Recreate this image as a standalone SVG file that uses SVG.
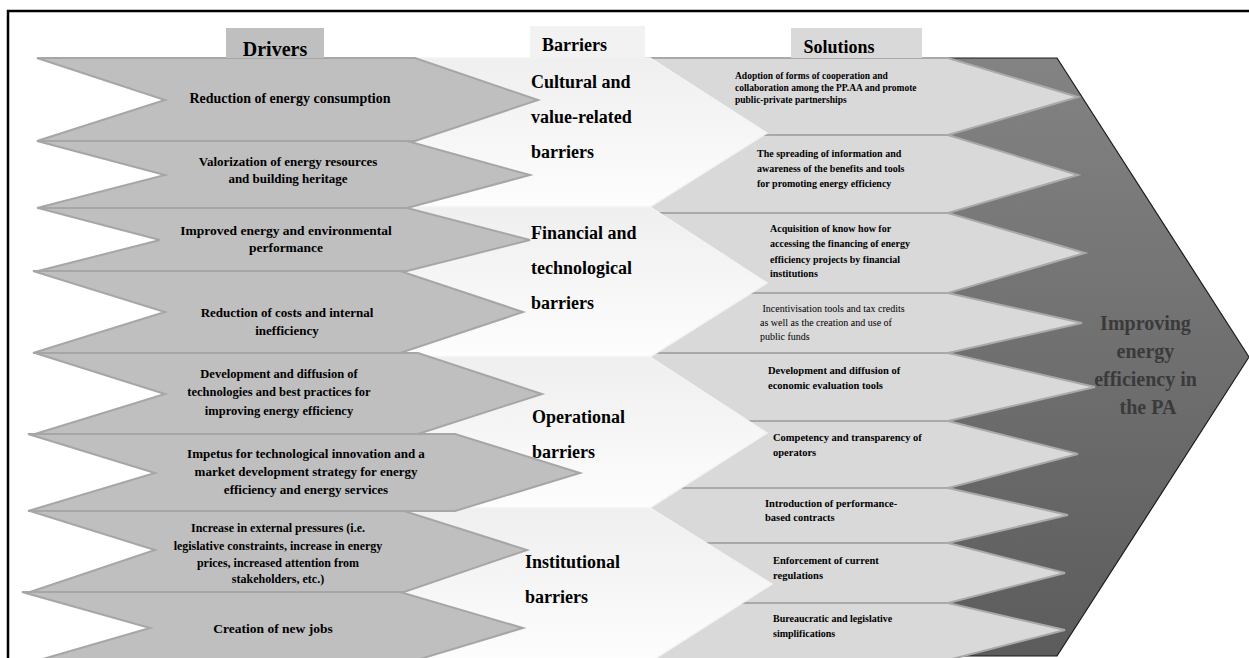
<svg xmlns="http://www.w3.org/2000/svg" width="1249" height="658" viewBox="0 0 1249 658">
<defs>
<linearGradient id="gArrow" x1="0" y1="0" x2="0" y2="1">
<stop offset="0" stop-color="#838383"/>
<stop offset="1" stop-color="#5c5c5c"/>
</linearGradient>
<linearGradient id="gBar" x1="0" y1="0" x2="0" y2="1">
<stop offset="0" stop-color="#efefef"/>
<stop offset="1" stop-color="#fdfdfd"/>
</linearGradient>
<style>
.drv{fill:#bfbfbf;stroke:#a6a6a6;stroke-width:2;stroke-linejoin:miter}
.sol{fill:#d9d9d9;stroke:#a9a9a9;stroke-width:2}
.bar{fill:url(#gBar);stroke:#f3f3f3;stroke-width:1.5}
.t{font-family:"Liberation Serif","Times New Roman",serif;fill:#000}
.dt{font-weight:bold;text-anchor:middle}
.st{font-weight:bold;font-size:10px}
.bt{font-weight:bold;font-size:18px}
.hd{font-weight:bold;font-size:18px}
</style>
</defs>
<rect x="0" y="0" width="1249" height="658" fill="#ffffff"/>

<g id="goal">
<polygon points="900,58 1057,58 1249,357 1057,656 900,656" fill="url(#gArrow)" stroke="#1a1a1a" stroke-width="1.2"/>
<text class="t" font-weight="bold" font-size="20" text-anchor="middle" fill="#3a3a3a" style="fill:#3a3a3a">
<tspan x="1148" y="330">Improving</tspan>
<tspan x="1148" y="358">energy</tspan>
<tspan x="1148" y="386">efficiency in</tspan>
<tspan x="1148" y="414">the PA</tspan>
</text>
</g>

<g id="solutions">
<g id="s1"><polygon class="sol" points="600,58 948,58 1078,97 948,135 600,135"/>
<text class="t st" font-size="9.5" style="font-size:9.5px"><tspan x="735" y="79">Adoption of forms of cooperation and</tspan><tspan x="735" y="91">collaboration among the PP.AA and promote</tspan><tspan x="735" y="103">public-private partnerships</tspan></text></g>
<g id="s2"><polygon class="sol" points="600,135 948,135 1078,175 948,213 600,213"/>
<text class="t st"><tspan x="757" y="157">The spreading of information and</tspan><tspan x="757" y="172">awareness of the benefits and tools</tspan><tspan x="757" y="187">for promoting energy efficiency</tspan></text></g>
<g id="s3"><polygon class="sol" points="600,213 948,213 1085,253 948,293 600,293"/>
<text class="t st"><tspan x="770" y="232">Acquisition of know how for</tspan><tspan x="770" y="247">accessing the financing of energy</tspan><tspan x="770" y="263">efficiency projects by financial</tspan><tspan x="770" y="277">institutions</tspan></text></g>
<g id="s4"><polygon class="sol" points="600,293 948,293 1082,323 948,353 600,353"/>
<text class="t" font-size="10" xml:space="preserve"><tspan x="760" y="312"> Incentivisation tools and tax credits</tspan><tspan x="760" y="326">as well as the creation and use of</tspan><tspan x="760" y="340">public funds</tspan></text></g>
<g id="s5"><polygon class="sol" points="600,353 948,353 1095,387 948,421 600,421"/>
<text class="t st" style="font-size:10.5px"><tspan x="768" y="374">Development and diffusion of</tspan><tspan x="768" y="389">economic evaluation tools</tspan></text></g>
<g id="s6"><polygon class="sol" points="600,421 948,421 1078,454 948,488 600,488"/>
<text class="t st" style="font-size:10.5px"><tspan x="773" y="441">Competency and transparency of</tspan><tspan x="773" y="456">operators</tspan></text></g>
<g id="s7"><polygon class="sol" points="600,488 948,488 1068,515 948,543 600,543"/>
<text class="t st" style="font-size:10.5px"><tspan x="765" y="507">Introduction of performance-</tspan><tspan x="765" y="521">based contracts</tspan></text></g>
<g id="s8"><polygon class="sol" points="600,543 948,543 1065,573 948,603 600,603"/>
<text class="t st" style="font-size:10.5px"><tspan x="773" y="564">Enforcement of current</tspan><tspan x="773" y="579">regulations</tspan></text></g>
<g id="s9"><polygon class="sol" points="600,603 948,603 1065,630 948,660 600,660"/>
<text class="t st"><tspan x="773" y="622">Bureaucratic and legislative</tspan><tspan x="773" y="637">simplifications</tspan></text></g>
</g>

<g id="barriers">
<g id="b1"><polygon class="bar" points="300,58 650,58 767,133 650,207 300,207"/>
<text class="t bt"><tspan x="531" y="88">Cultural and</tspan><tspan x="531" y="123">value-related</tspan><tspan x="531" y="158">barriers</tspan></text></g>
<g id="b2"><polygon class="bar" points="300,207 650,207 767,283 650,357 300,357"/>
<text class="t bt"><tspan x="531" y="239">Financial and</tspan><tspan x="531" y="274">technological</tspan><tspan x="531" y="309">barriers</tspan></text></g>
<g id="b3"><polygon class="bar" points="300,357 650,357 767,433 650,508 300,508"/>
<text class="t bt"><tspan x="532" y="423">Operational</tspan><tspan x="532" y="458">barriers</tspan></text></g>
<g id="b4"><polygon class="bar" points="300,508 650,508 772,584 650,662 300,662"/>
<text class="t bt"><tspan x="525" y="568">Institutional</tspan><tspan x="525" y="603">barriers</tspan></text></g>
</g>

<g id="drivers">
<g id="d1"><polygon class="drv" points="37,58 415,58 538,100 415,141 37,141 165,100"/>
<text class="t dt" font-size="14"><tspan x="290" y="103">Reduction of energy consumption</tspan></text></g>
<g id="d2"><polygon class="drv" points="37,141 407,141 530,175 407,208 37,208 165,175"/>
<text class="t dt" font-size="13"><tspan x="288" y="166">Valorization of energy resources</tspan><tspan x="288" y="183">and building heritage</tspan></text></g>
<g id="d3"><polygon class="drv" points="38,208 407,208 530,240 407,271 38,271 160,240"/>
<text class="t dt" font-size="13.5"><tspan x="286" y="235">Improved energy and environmental</tspan><tspan x="286" y="252">performance</tspan></text></g>
<g id="d4"><polygon class="drv" points="33,271 400,271 523,312 400,353 33,353 165,312"/>
<text class="t dt" font-size="13"><tspan x="287" y="317">Reduction of costs and internal</tspan><tspan x="287" y="335">inefficiency</tspan></text></g>
<g id="d5"><polygon class="drv" points="35,353 418,353 542,394 418,434 35,434 165,394"/>
<text class="t dt" font-size="12.5"><tspan x="279" y="378">Development and diffusion of</tspan><tspan x="279" y="396">technologies and best practices for</tspan><tspan x="279" y="415">improving energy efficiency</tspan></text></g>
<g id="d6"><polygon class="drv" points="28,434 455,434 580,473 455,511 28,511 155,473"/>
<text class="t dt" font-size="13"><tspan x="306" y="458">Impetus for technological innovation and a</tspan><tspan x="306" y="476">market development strategy for energy</tspan><tspan x="306" y="494">efficiency and energy services</tspan></text></g>
<g id="d7"><polygon class="drv" points="30,511 404,511 527,550 404,592 30,592 155,550"/>
<text class="t dt" font-size="12"><tspan x="278" y="532">Increase in external pressures (i.e.</tspan><tspan x="278" y="550">legislative constraints, increase in energy</tspan><tspan x="278" y="567">prices, increased attention from</tspan><tspan x="278" y="583">stakeholders, etc.)</tspan></text></g>
<g id="d8"><polygon class="drv" points="22,592 400,592 523,628 400,665 22,665 150,628"/>
<text class="t dt" font-size="13.5"><tspan x="273" y="633">Creation of new jobs</tspan></text></g>
</g>

<g id="headers">
<g id="h-drivers"><rect x="226" y="28" width="98" height="30" fill="#bfbfbf"/>
<text class="t hd" x="275" y="56" text-anchor="middle" style="font-size:20px">Drivers</text></g>
<g id="h-barriers"><rect x="530" y="26" width="115" height="32" fill="#f2f2f2"/>
<text class="t hd" x="542" y="51">Barriers</text></g>
<g id="h-solutions"><rect x="791" y="28" width="131" height="30" fill="#d9d9d9"/>
<text class="t hd" x="839" y="53" text-anchor="middle">Solutions</text></g>
</g>

<g id="connectors"></g>

<rect id="frame" x="8" y="11" width="1262" height="670" fill="none" stroke="#000" stroke-width="2.5"/>
</svg>
